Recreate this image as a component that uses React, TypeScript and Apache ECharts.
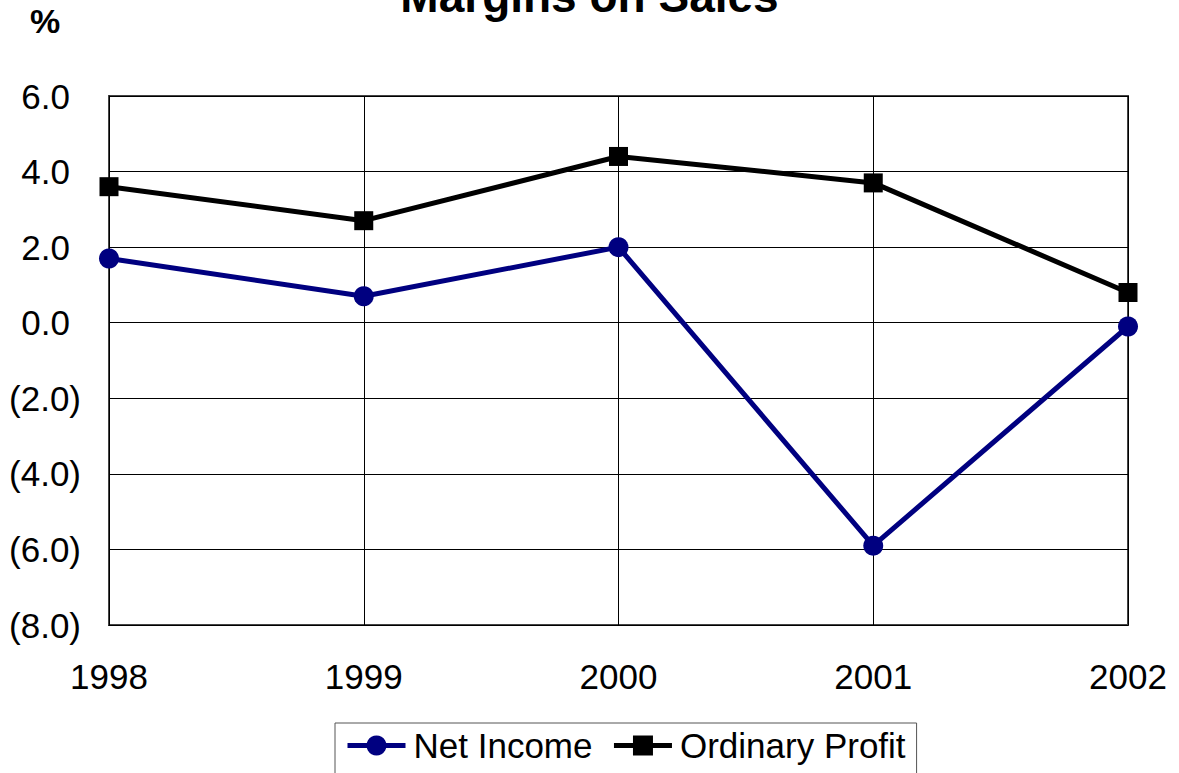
import React, { useEffect, useRef } from "react";
import * as echarts from "echarts";

const years = ["1998", "1999", "2000", "2001", "2002"];
const netIncome = [1.7, 0.7, 2.0, -5.9, -0.1];
const ordinaryProfit = [3.6, 2.7, 4.4, 3.7, 0.8];
const titleText = "Margins on Sales";
const unitText = "%";

const FONT = "'Liberation Sans', Arial, sans-serif";
const FS = 35;

export default function App() {
  const ref = useRef<HTMLDivElement>(null);
  useEffect(() => {
    if (!ref.current) return;
    const chart = echarts.init(ref.current, null, { renderer: "svg" });
    chart.setOption({
      animation: false,
      backgroundColor: "#fff",
      textStyle: { fontFamily: FONT },
      title: {
        text: titleText,
        left: "center",
        top: -27,
        padding: 0,
        textStyle: { fontFamily: FONT, fontSize: 46, fontWeight: "bold", color: "#000" },
      },
      graphic: [
        {
          type: "text",
          x: 45,
          y: 21,
          style: {
            text: unitText,
            fontFamily: FONT,
            fontSize: 34,
            fontWeight: "bold",
            fill: "#000",
            textAlign: "center",
            textVerticalAlign: "middle",
          },
        },
      ],
      legend: {
        left: 335,
        top: 723,
        padding: [5, 11, 30, 10],
        borderColor: "#555",
        borderWidth: 1,
        itemWidth: 58,
        itemHeight: 25,
        itemGap: 19,
        lineStyle: { width: 5 },
        textStyle: { fontFamily: FONT, fontSize: FS, color: "#000", padding: [0, 0, 0, 3] },
        data: ["Net Income", "Ordinary Profit"],
      },
      grid: {
        left: 109,
        right: 51,
        top: 96,
        bottom: 148,
        show: true,
        borderColor: "#444",
        borderWidth: 2,
        backgroundColor: "#fff",
      },
      xAxis: {
        type: "category",
        data: years,
        boundaryGap: false,
        axisLine: { show: true, onZero: false, lineStyle: { color: "#000", width: 1 } },
        axisTick: { show: false },
        axisLabel: { fontFamily: FONT, fontSize: FS, color: "#000", margin: 34 },
        splitLine: { show: true, lineStyle: { color: "#000", width: 1 } },
      },
      yAxis: {
        type: "value",
        min: -8,
        max: 6,
        interval: 2,
        axisLine: { show: true, lineStyle: { color: "#000", width: 1 } },
        axisTick: { show: false },
        axisLabel: {
          fontFamily: FONT,
          fontSize: FS,
          color: "#000",
          margin: 28,
          formatter: (v: number) =>
            v < 0 ? `(${Math.abs(v).toFixed(1)})` : `{p|${v.toFixed(1)}}`,
          rich: {
            p: { fontFamily: FONT, fontSize: FS, color: "#000", padding: [0, 11, 0, 0] },
          },
        },
        splitLine: { show: true, lineStyle: { color: "#000", width: 1 } },
      },
      series: [
        {
          name: "Net Income",
          type: "line",
          data: netIncome,
          symbol: "circle",
          symbolSize: 20,
          lineStyle: { color: "#000080", width: 5 },
          itemStyle: { color: "#000080" },
          z: 3,
        },
        {
          name: "Ordinary Profit",
          type: "line",
          data: ordinaryProfit,
          symbol: "rect",
          symbolSize: 19,
          lineStyle: { color: "#000", width: 5 },
          itemStyle: { color: "#000" },
          z: 3,
        },
      ],
    });
    return () => chart.dispose();
  }, []);
  return (
    <div
      ref={ref}
      style={{ position: "fixed", left: 0, top: 0, width: 1179, height: 773, background: "#fff" }}
    />
  );
}
